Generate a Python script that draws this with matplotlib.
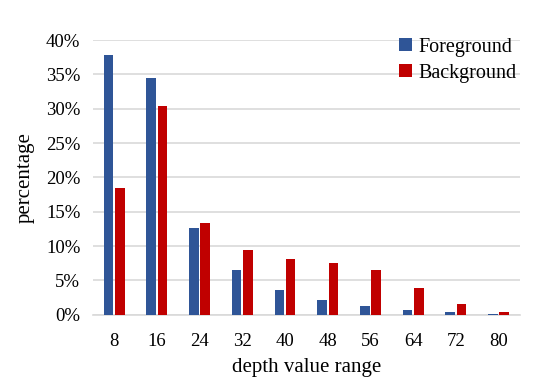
import matplotlib
matplotlib.use("Agg")
import matplotlib.pyplot as plt
import numpy as np
from matplotlib.ticker import FuncFormatter

categories = ["8", "16", "24", "32", "40", "48", "56", "64", "72", "80"]
foreground = [37.8, 34.5, 12.7, 6.5, 3.6, 2.1, 1.27, 0.7, 0.4, 0.1]
background = [18.4, 30.4, 13.4, 9.45, 8.1, 7.55, 6.5, 3.9, 1.5, 0.45]

plt.rcParams['font.family'] = ['Liberation Serif', 'DejaVu Serif']

fig = plt.figure(figsize=(5.56, 3.90), dpi=100)
ax = fig.add_axes([0.167, 0.193, 0.768, 0.704])

x = np.arange(len(categories))
w = 0.225
gap = 0.04
ax.bar(x - w/2 - gap/2, foreground, w, color='#2F5597', label='Foreground', zorder=3)
ax.bar(x + w/2 + gap/2, background, w, color='#C00000', label='Background', zorder=3)

ax.set_xlim(-0.5, len(categories) - 0.5)
ax.set_ylim(0, 40)
ax.set_yticks(np.arange(0, 41, 5))
ax.yaxis.set_major_formatter(FuncFormatter(lambda v, p: f"{int(v)}%"))
ax.set_xticks(x)
ax.set_xticklabels(categories)
ax.tick_params(axis='both', length=0, labelsize=13.5, colors='#000000')
ax.tick_params(axis='x', pad=13)
ax.tick_params(axis='y', pad=9)
ax.grid(axis='y', color='#D9D9D9', linewidth=1.2, zorder=0)
for s in ['top', 'right', 'left']:
    ax.spines[s].set_visible(False)
ax.spines['bottom'].set_color('#D9D9D9')
ax.spines['bottom'].set_linewidth(1.2)

ax.set_xlabel('depth value range', fontsize=15, labelpad=6)
ax.set_ylabel('percentage', fontsize=15, labelpad=8)

leg = ax.legend(loc='upper right', frameon=False, fontsize=14.5, handlelength=0.6,
                handleheight=0.6, handletextpad=0.35, labelspacing=0.35,
                bbox_to_anchor=(1.035, 1.075))

fig.savefig('out.png', dpi=100)
